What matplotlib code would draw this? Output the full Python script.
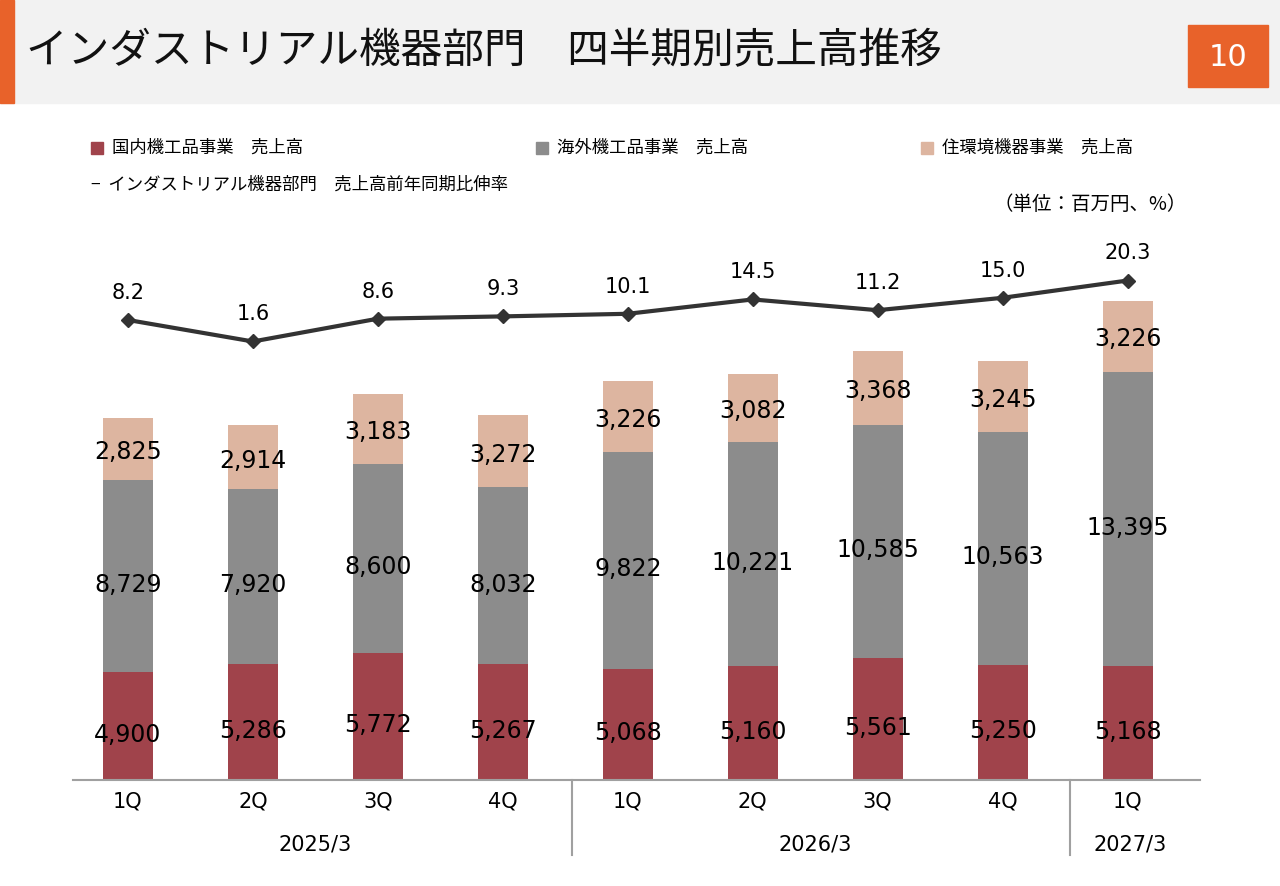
import matplotlib
matplotlib.use("Agg")
import matplotlib.pyplot as plt
from matplotlib.patches import Rectangle

plt.rcParams['font.family'] = ['Noto Sans CJK JP', 'DejaVu Sans']
NUM = ['DejaVu Sans']

quarters = ['1Q', '2Q', '3Q', '4Q', '1Q', '2Q', '3Q', '4Q', '1Q']
years = ['2025/3', '2026/3', '2027/3']
domestic = [4900, 5286, 5772, 5267, 5068, 5160, 5561, 5250, 5168]
overseas = [8729, 7920, 8600, 8032, 9822, 10221, 10585, 10563, 13395]
housing = [2825, 2914, 3183, 3272, 3226, 3082, 3368, 3245, 3226]
growth = [8.2, 1.6, 8.6, 9.3, 10.1, 14.5, 11.2, 15.0, 20.3]

c_dom = '#A0434B'
c_ovs = '#8C8C8C'
c_hou = '#DDB5A0'
c_line = '#333333'

W, H = 1280, 886
fig = plt.figure(figsize=(12.8, 8.86), dpi=100)

def fx(px):
    return px / W

def fy(py):
    return 1 - py / H

# header
fig.patches.append(Rectangle((0, fy(103)), 1, 103 / H, transform=fig.transFigure,
                             color='#F2F2F2', zorder=0))
fig.patches.append(Rectangle((0, fy(103)), fx(14), 103 / H, transform=fig.transFigure,
                             color='#E8622A', zorder=1))
fig.patches.append(Rectangle((fx(1188), fy(87)), fx(80), 62 / H, transform=fig.transFigure,
                             color='#E8622A', zorder=1))
fig.text(fx(1228), fy(57), '10', color='white', fontsize=22, ha='center', va='center',
         family=NUM)
fig.text(fx(26), fy(52), 'インダストリアル機器部門　四半期別売上高推移', fontsize=30,
         ha='left', va='center', color='#111111')

# legend
legend = [(97, 148, c_dom, '国内機工品事業　売上高'),
          (542, 148, c_ovs, '海外機工品事業　売上高'),
          (927, 148, c_hou, '住環境機器事業　売上高')]
for x, y, c, t in legend:
    fig.patches.append(Rectangle((fx(x - 6), fy(y + 6)), fx(12), 12 / H,
                                 transform=fig.transFigure, color=c))
    fig.text(fx(x + 15), fy(y), t, fontsize=12.5, va='center', ha='left')
fig.text(fx(91), fy(185), '−  インダストリアル機器部門　売上高前年同期比伸率', fontsize=12.5,
         va='center', ha='left')
fig.text(fx(1187), fy(205), '（単位：百万円、%）', fontsize=14, va='center', ha='right')

# axes: x 73..1200, y 230..780
ax = fig.add_axes([fx(73), fy(780), fx(1200 - 73), (780 - 230) / H])
x = list(range(len(quarters)))
ax.set_xlim(-0.44, 8.58)
ax.set_ylim(0, 25000)
w = 0.4
b2 = [d + o for d, o in zip(domestic, overseas)]
ax.bar(x, domestic, w, color=c_dom)
ax.bar(x, overseas, w, bottom=domestic, color=c_ovs)
ax.bar(x, housing, w, bottom=b2, color=c_hou)
for i in x:
    ax.text(i, domestic[i] / 2 - 400, f'{domestic[i]:,}', ha='center', va='center',
            fontsize=17, family=NUM)
    ax.text(i, domestic[i] + overseas[i] / 2 - 400, f'{overseas[i]:,}', ha='center',
            va='center', fontsize=17, family=NUM)
    ax.text(i, b2[i] + housing[i] / 2 - 150, f'{housing[i]:,}', ha='center', va='center',
            fontsize=17, family=NUM)

for s in ['top', 'right', 'left']:
    ax.spines[s].set_visible(False)
ax.spines['bottom'].set_color('#A0A0A0')
ax.spines['bottom'].set_linewidth(1.5)
ax.set_yticks([])
ax.set_xticks(x)
ax.set_xticklabels(quarters, fontsize=15, family=NUM)
ax.tick_params(axis='x', length=0, pad=8)

ax2 = ax.twinx()
ax2.set_ylim(-132.9, 35.8)
ax2.plot(x, growth, color=c_line, lw=3, marker='D', markersize=7)
for i in x:
    ax2.text(i, growth[i] + 8.3, f'{growth[i]:.1f}', ha='center', va='center',
             fontsize=15, family=NUM)
ax2.axis('off')

# year labels and separators
for xs in [572, 1070]:
    fig.add_artist(plt.Line2D([fx(xs), fx(xs)], [fy(780), fy(855)], color='#A0A0A0', lw=1.5))
for xc, t in [(315, years[0]), (815, years[1]), (1130, years[2])]:
    fig.text(fx(xc), fy(845), t, fontsize=15, ha='center', va='center', family=NUM)

fig.savefig('out.png', dpi=100)
